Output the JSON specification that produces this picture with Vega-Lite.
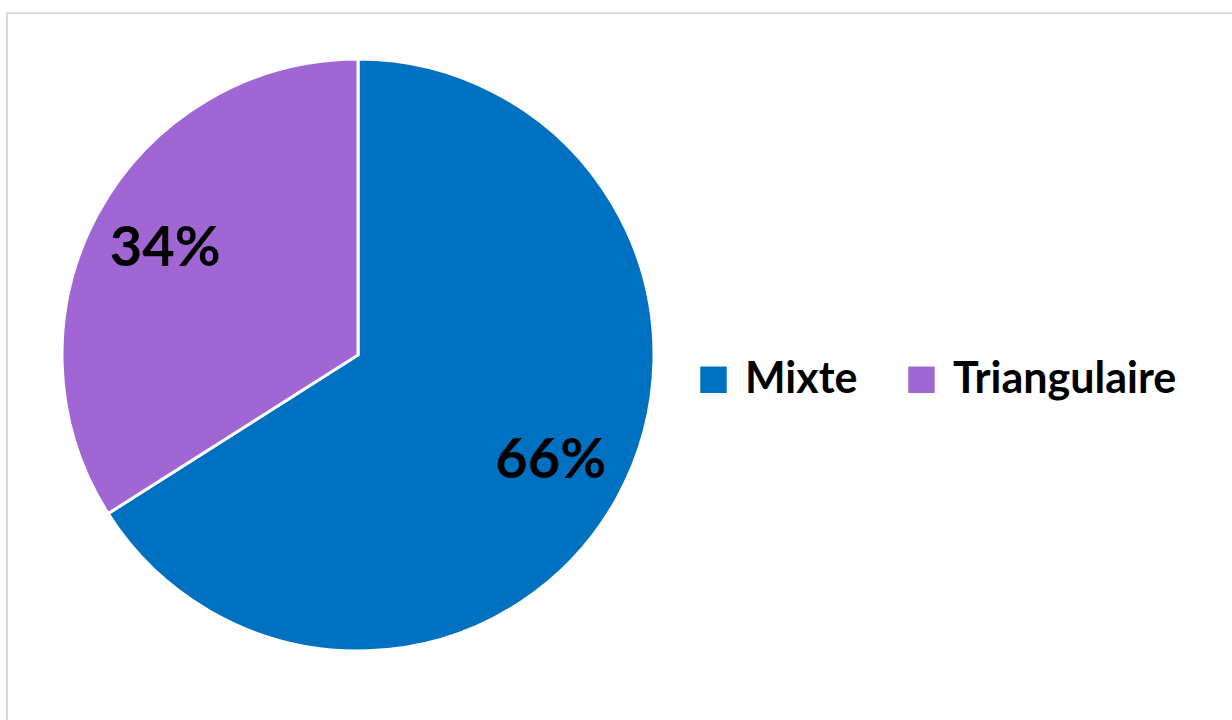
{
  "$schema": "https://vega.github.io/schema/vega-lite/v6.json",
  "autosize": {"type": "none"},
  "width": 1240,
  "height": 720,
  "padding": {"left": 7, "top": 13, "right": 0, "bottom": 0},
  "background": "white",
  "view": {"stroke": "#D9D9D9", "strokeWidth": 2},
  "config": {
    "view": {"stroke": "#D9D9D9", "strokeWidth": 2},
    "font": "Lato"
  },
  "data": {
    "values": [
      {"type": "Mixte", "value": 66, "label": "66%"},
      {"type": "Triangulaire", "value": 34, "label": "34%"}
    ]
  },
  "encoding": {
    "theta": {"field": "value", "type": "quantitative", "stack": true},
    "order": {"field": "value", "type": "quantitative", "sort": "descending"}
  },
  "layer": [
    {
      "mark": {"type": "arc", "radius": 296, "x": 351, "y": 342, "stroke": "white", "strokeWidth": 3},
      "encoding": {
        "color": {
          "field": "type",
          "type": "nominal",
          "scale": {"domain": ["Mixte", "Triangulaire"], "range": ["#0070C0", "#A066D3"]},
          "legend": {
            "title": null,
            "orient": "none",
            "direction": "horizontal",
            "legendX": 685,
            "legendY": 345,
            "symbolType": "square",
            "symbolSize": 700,
            "symbolStrokeWidth": 0,
            "labelFont": "Lato",
            "labelFontSize": 43,
            "labelFontWeight": "bold",
            "labelColor": "black",
            "labelOffset": 10,
            "columnPadding": 42,
            "labelLimit": 400
          }
        }
      }
    },
    {
      "mark": {"type": "text", "radius": 220, "x": 351, "y": 342, "font": "Lato", "fontSize": 56, "fontWeight": "bold", "color": "black"},
      "encoding": {
        "text": {"field": "label"}
      }
    }
  ]
}
